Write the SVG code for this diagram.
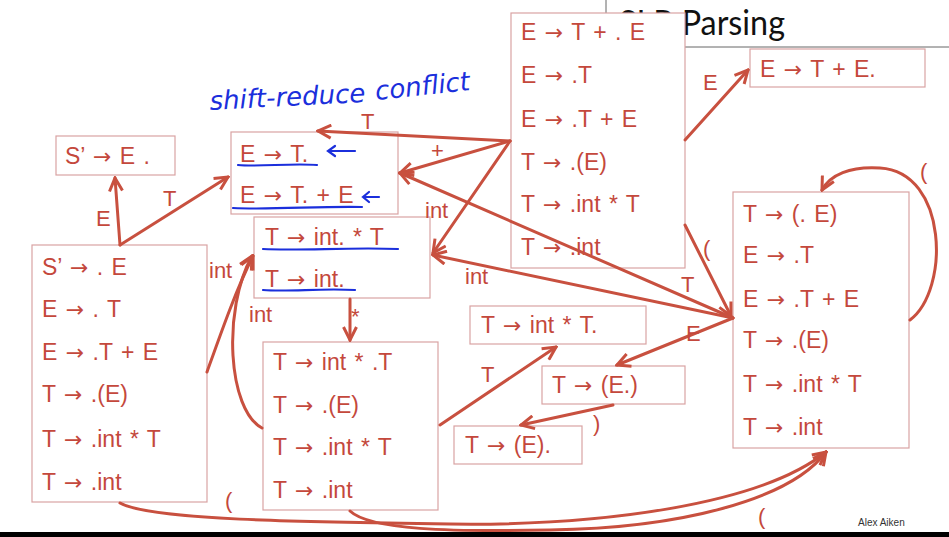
<svg xmlns="http://www.w3.org/2000/svg" width="949" height="537" viewBox="0 0 949 537">
<style>
.box{fill:#fff;stroke:#d9a3a3;stroke-width:1.2}
.it{font-family:"Liberation Sans",Arial,sans-serif;font-size:23px;fill:#c4483c;word-spacing:2px}
.ar{font-family:"DejaVu Sans",sans-serif;font-size:22px}
.lb{font-family:"Liberation Sans",Arial,sans-serif;font-size:22px;fill:#c4483c}
.cn{fill:none;stroke:#c8503f;stroke-width:3;stroke-linecap:round;marker-end:url(#ah)}
.bl{fill:none;stroke:#1b2fdc;stroke-width:2.2;stroke-linecap:round}
.hw{font-family:"DejaVu Sans",sans-serif;font-style:italic;font-size:26px;fill:#1b2fdc}
</style>
<defs>
<marker id="ah" viewBox="0 0 16 16" refX="14" refY="8" markerWidth="16" markerHeight="16" markerUnits="userSpaceOnUse" orient="auto">
<path d="M1,1.5 L14,8 L1,14.5" fill="none" stroke="#c8503f" stroke-width="3" stroke-linejoin="miter"/>
</marker>
</defs>
<rect width="949" height="537" fill="#fff"/>
<g id="title">
<line x1="606" y1="0" x2="606" y2="47" stroke="#666" stroke-width="1"/>
<line x1="606" y1="47" x2="949" y2="47" stroke="#666" stroke-width="1"/>
<text x="619" y="35" font-family="Lato,'Open Sans',sans-serif" font-size="34" fill="#111" textLength="166" lengthAdjust="spacingAndGlyphs">SLR Parsing</text>
</g>
<g id="nodeA"><rect class="box" x="56" y="136" width="119" height="39"/><text class="it" x="65" y="164">S’ <tspan class="ar">→</tspan> E .</text></g>
<g id="nodeB"><rect class="box" x="231" y="132" width="167" height="82"/>
<text class="it" x="240" y="162">E <tspan class="ar">→</tspan> T.</text><text class="it" x="240" y="203">E <tspan class="ar">→</tspan> T. + E</text></g>
<g id="nodeC"><rect class="box" x="254" y="217" width="176" height="81"/>
<text class="it" x="265" y="245">T <tspan class="ar">→</tspan> int. * T</text><text class="it" x="265" y="287">T <tspan class="ar">→</tspan> int.</text></g>
<g id="nodeD"><rect class="box" x="32" y="245" width="175" height="257"/>
<text class="it" x="42" y="275">S’ <tspan class="ar">→</tspan> . E</text><text class="it" x="42" y="317">E <tspan class="ar">→</tspan> . T</text><text class="it" x="42" y="360">E <tspan class="ar">→</tspan> .T + E</text><text class="it" x="42" y="402">T <tspan class="ar">→</tspan> .(E)</text><text class="it" x="42" y="447">T <tspan class="ar">→</tspan> .int * T</text><text class="it" x="42" y="490">T <tspan class="ar">→</tspan> .int</text></g>
<g id="nodeE"><rect class="box" x="263" y="342" width="175" height="168"/>
<text class="it" x="273" y="370">T <tspan class="ar">→</tspan> int * .T</text><text class="it" x="273" y="413">T <tspan class="ar">→</tspan> .(E)</text><text class="it" x="273" y="455">T <tspan class="ar">→</tspan> .int * T</text><text class="it" x="273" y="498">T <tspan class="ar">→</tspan> .int</text></g>
<g id="nodeF"><rect class="box" x="511" y="13" width="174" height="255"/>
<text class="it" x="521" y="40">E <tspan class="ar">→</tspan> T + . E</text><text class="it" x="521" y="83">E <tspan class="ar">→</tspan> .T</text><text class="it" x="521" y="127">E <tspan class="ar">→</tspan> .T + E</text><text class="it" x="521" y="170">T <tspan class="ar">→</tspan> .(E)</text><text class="it" x="521" y="212">T <tspan class="ar">→</tspan> .int * T</text><text class="it" x="521" y="255">T <tspan class="ar">→</tspan> .int</text></g>
<g id="nodeG"><rect class="box" x="750" y="49" width="175" height="38"/><text class="it" x="760" y="77">E <tspan class="ar">→</tspan> T + E.</text></g>
<g id="nodeH"><rect class="box" x="733" y="192" width="176" height="256"/>
<text class="it" x="743" y="222">T <tspan class="ar">→</tspan> (. E)</text><text class="it" x="743" y="263">E <tspan class="ar">→</tspan> .T</text><text class="it" x="743" y="307">E <tspan class="ar">→</tspan> .T + E</text><text class="it" x="743" y="348">T <tspan class="ar">→</tspan> .(E)</text><text class="it" x="743" y="392">T <tspan class="ar">→</tspan> .int * T</text><text class="it" x="743" y="435">T <tspan class="ar">→</tspan> .int</text></g>
<g id="nodeI"><rect class="box" x="470" y="306" width="176" height="38"/><text class="it" x="481" y="333">T <tspan class="ar">→</tspan> int * T.</text></g>
<g id="nodeJ"><rect class="box" x="542" y="366" width="143" height="38"/><text class="it" x="552" y="393">T <tspan class="ar">→</tspan> (E.)</text></g>
<g id="nodeK"><rect class="box" x="454" y="426" width="128" height="38"/><text class="it" x="465" y="453">T <tspan class="ar">→</tspan> (E).</text></g>
<g id="connectors">
<path class="cn" d="M120,245 L115,178"/>
<path class="cn" d="M120,245 L228,177"/>
<path class="cn" d="M207,372 C222,330 236,290 253,256"/>
<path class="cn" d="M262,428 C228,410 222,310 252,256"/>
<path class="cn" d="M350,299 L350,340"/>
<path class="cn" d="M440,425 L556,347"/>
<path class="cn" d="M510,141 L318,131"/>
<path class="cn" d="M510,141 L400,173"/>
<path class="cn" d="M510,141 L433,253"/>
<path class="cn" d="M685,140 L748,70"/>
<path class="cn" d="M685,225 L731,316"/>
<path class="cn" d="M733,318 L400,173"/>
<path class="cn" d="M733,318 L433,255"/>
<path class="cn" d="M733,318 L617,365"/>
<path class="cn" d="M613,405 L521,425"/>
<path class="cn" d="M910,320 C950,290 948,172 880,168 C850,166 830,175 822,190"/>
<path class="cn" d="M120,503 C150,520 300,522 450,524 C600,526 760,505 826,452"/>
<path class="cn" d="M350,511 C370,530 450,532 550,530 C680,528 790,500 826,452"/>
<text class="lb" x="96" y="226">E</text>
<text class="lb" x="163" y="206">T</text>
<text class="lb" x="209" y="278" font-size="20">int</text>
<text class="lb" x="249" y="322" font-size="20">int</text>
<text class="lb" x="351" y="324" font-size="18">*</text>
<text class="lb" x="481" y="382">T</text>
<text class="lb" x="361" y="129">T</text>
<text class="lb" x="431" y="158" font-size="16">+</text>
<text class="lb" x="425" y="218" font-size="20">int</text>
<text class="lb" x="703" y="90">E</text>
<text class="lb" x="703" y="256">(</text>
<text class="lb" x="681" y="292">T</text>
<text class="lb" x="465" y="284" font-size="20">int</text>
<text class="lb" x="686" y="341">E</text>
<text class="lb" x="593" y="431">)</text>
<text class="lb" x="920" y="179">(</text>
<text class="lb" x="225" y="508">(</text>
<text class="lb" x="758" y="524">(</text>
</g>
<g id="annotations">
<text class="hw" x="210" y="110" transform="rotate(-3 210 110)">shift-reduce</text>
<text class="hw" x="376" y="100" transform="rotate(-6 376 100)">conflict</text>
<path class="bl" d="M238,165 C260,167 290,163 317,165"/>
<path class="bl" d="M233,208 C270,210 320,206 362,207"/>
<path class="bl" d="M263,249 C300,251 350,247 398,249"/>
<path class="bl" d="M263,290 C290,292 320,288 355,290"/>
<path class="bl" d="M355,151 L328,151 M335,146 L328,151 L335,156"/>
<path class="bl" d="M379,197 L363,197 M369,192 L363,197 L369,202"/>
</g>
<text x="858" y="526" font-family="'Liberation Sans',Arial,sans-serif" font-size="10" fill="#333">Alex Aiken</text>
<rect x="0" y="532" width="949" height="5" fill="#000"/>
</svg>
